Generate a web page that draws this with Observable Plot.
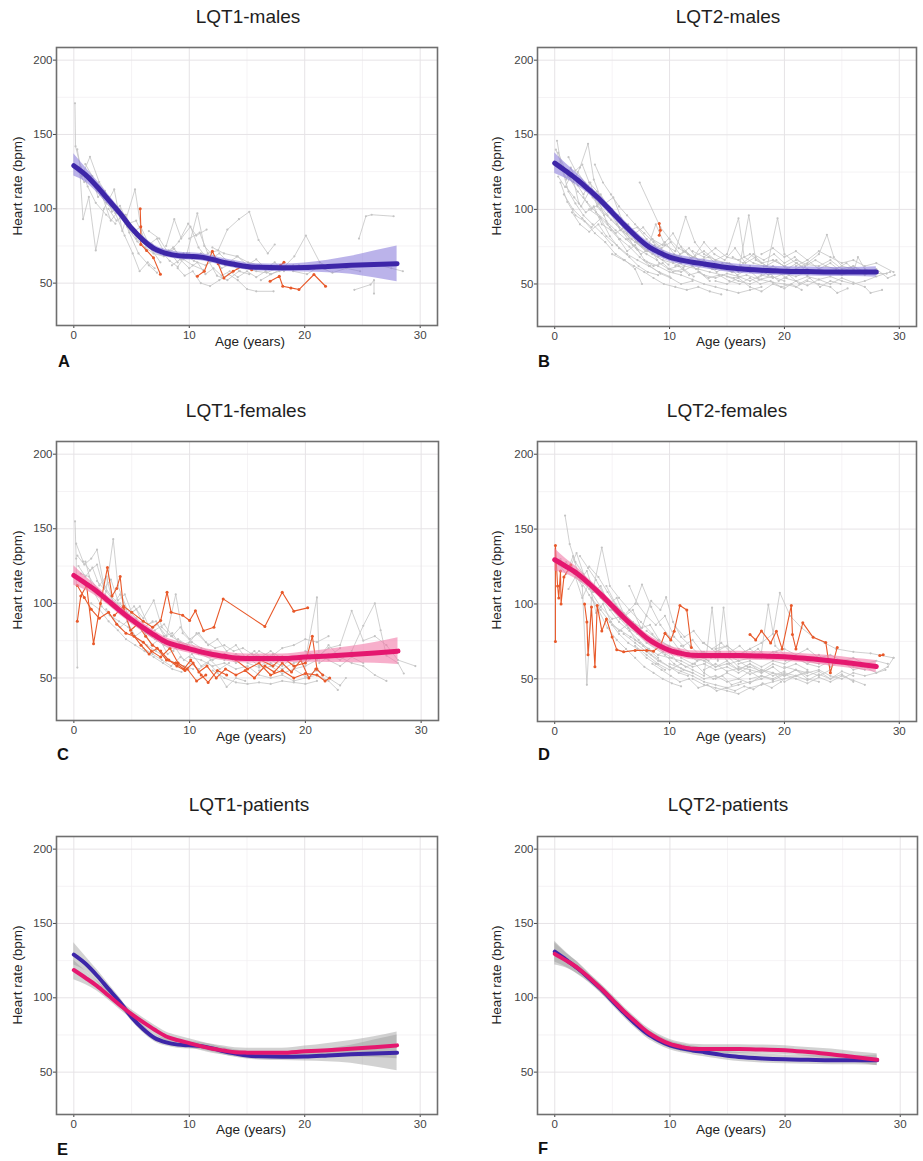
<!DOCTYPE html>
<html>
<head>
<meta charset="utf-8">
<script src="https://cdn.jsdelivr.net/npm/d3@7"></script>
<script src="https://cdn.jsdelivr.net/npm/@observablehq/plot@0.6"></script>
<style>
  body { margin: 0; background: #fff; }
  #root { position: relative; width: 923px; height: 1161px; background: #fff; overflow: hidden;
          font-family: "Liberation Sans", Arial, sans-serif; }
  .panel { position: absolute; }
  .title { position: absolute; transform: translate(-50%, -50%); font-size: 19px; line-height: 1; color: #1e1e1e; white-space: nowrap; }
  .letter { position: absolute; font-size: 16.5px; font-weight: bold; line-height: 1; color: #111; }
  .xlab { position: absolute; transform: translate(-50%, -50%); font-size: 13.5px; line-height: 1; color: #222; white-space: nowrap; }
  .ylab { position: absolute; transform: translate(-50%, -50%) rotate(-90deg); font-size: 13.5px; line-height: 1; color: #222; white-space: nowrap; }
</style>
</head>
<body>
<div id="root"></div>
<script>
// ---------- tick labels / text ----------
const xTicks = [0, 10, 20, 30];
const xMinor = [5, 15, 25];
const yTicks = [50, 100, 150, 200];
const yMinor = [75, 125, 175];
const titles = ["LQT1-males", "LQT2-males", "LQT1-females", "LQT2-females", "LQT1-patients", "LQT2-patients"];
const letters = ["A", "B", "C", "D", "E", "F"];

// ---------- smoothed trends (age, fit, lower, upper) ----------
const trendAges = [0,1,2,3,4,5,6,7,8,9,10,11,12,13,14,15,16,18,20,22,24,26,28];

const fitLQT1M = [129,123,115,106,97,87,79,73,70,68.5,68,67.5,66,64,62.5,61.2,60.6,60.3,60.5,61.2,62,62.6,63];
const loLQT1M  = [122,118,111,102.5,94,84.5,76.5,70.5,67.5,66,65.5,65,63.5,61.5,60,58.8,58.2,57.8,57.5,57,56,53.6,51];
const hiLQT1M  = [137,128,119,109.5,100,89.5,81.5,75.5,72.5,71,70.5,70,68.5,66.5,65,63.6,63,62.8,63.5,65.4,68,71.6,75];

const fitLQT2M = [131,125.5,119.7,113,106,98,90,82.5,76,71.5,68,66,64.6,63.4,62.2,61,60.2,59.2,58.6,58.3,58,58,58];
const loLQT2M  = [124,120.5,115.7,110,103,95,87,79.5,73,68.5,65,63,61.6,60.4,59.2,58,57.2,56.2,55.6,55.3,55,55,54.5];
const hiLQT2M  = [138,130.5,123.7,116,109,101,93,85.5,79,74.5,71,69,67.6,66.4,65.2,64,63.2,62.2,61.6,61.3,61,61,61.5];

const fitLQT1F = [118.7,113.5,108,101.5,95,89,83.6,78.5,74,71.5,69.5,67.5,65.7,64.5,63.4,63.1,63,63,64,64.8,65.7,66.8,68];
const loLQT1F  = [112.2,109,104.5,98.5,92,86,80.6,75.5,71,68.5,66.5,64.5,62.7,61.5,60.4,60.1,60,60,60.5,60.3,60.2,59.8,59];
const hiLQT1F  = [125.2,118,111.5,104.5,98,92,86.6,81.5,77,74.5,72.5,70.5,68.7,67.5,66.4,66.1,66,66,67.5,69.3,71.2,73.8,77];

const fitLQT2F = [129.5,125,120,113.5,106.4,98.8,91,84,77.3,72.5,69,67,65.7,65.5,65.5,65.5,65.5,65.2,64.8,63.5,62,60.2,58.3];
const loLQT2F  = [122,120,116,110.5,103.4,95.8,88,81,74.3,69.5,66,64,62.7,62.5,62.5,62.5,62.5,62.2,61.8,60.5,58.5,56.7,54.3];
const hiLQT2F  = [137,130,124,116.5,109.4,101.8,94,87,80.3,75.5,72,70,68.7,68.5,68.5,68.5,68.5,68.2,67.8,66.5,65.5,63.7,62.3];

// ---------- individual patients: flat [age, hr, age, hr, ...] ----------
const grayLQT1M = [
  [0.1,171, 0.15,142, 0.6,128, 1.2,115, 1.9,104, 2.8,96, 3.6,90],
  [0.3,140, 0.7,122, 1.4,135, 2.2,118, 3,108, 3.8,98, 4.6,88, 5.5,78, 6.2,73],
  [0.5,128, 0.8,93, 1.3,108, 1.9,72, 2.6,100, 3.5,113, 4.2,85, 5.3,113, 6,78, 6.8,72, 7.5,64],
  [1,130, 1.6,122, 2.4,110, 3.2,92, 4,100, 4.8,84, 5.6,70, 6.5,62, 7.2,57],
  [2,112, 2.8,104, 3.6,97, 4.4,82, 5.1,70, 5.7,58, 6.4,64, 7,60],
  [4.5,96, 5,87, 5.4,80, 6.2,74, 6.9,70, 7.8,68, 8.7,73, 9.5,66, 10.3,62, 11.2,59],
  [7.5,72, 8.3,65, 9,61, 9.8,70, 10.7,97, 11.3,75, 12.1,68, 12.8,60, 13.6,63, 14.4,58],
  [8,75, 8.7,93, 9.3,80, 10.1,88, 10.8,74, 11.6,66, 12.4,55, 13.3,52, 14.3,58, 15.2,56],
  [9,60, 9.6,55, 10.3,58, 11,50, 11.8,48, 12.6,52, 13.4,56, 14.2,52, 15,46, 15.8,44.5, 17.3,44.5],
  [10,80, 10.9,84, 11.6,70, 12.5,72, 13.3,86, 14.3,93, 15.2,98, 16,79, 16.8,70, 17.4,76],
  [9.5,70, 10.4,65, 11.4,62, 12.3,66, 13.1,62, 13.9,64, 14.9,60, 15.8,58, 16.7,57, 17.6,60],
  [12,74, 13,70, 14.1,68, 15.1,64, 16.1,62, 17,56, 17.8,58, 18.8,60, 19.5,62],
  [16.2,52, 17.1,56, 18.1,60, 19.1,68, 20.1,82, 21.3,64, 22.2,60],
  [19,58, 20.2,56, 21.2,61, 22.4,57, 23.6,60, 24.8,58],
  [24.7,80, 25.3,95, 25.8,96, 27.7,95],
  [24.3,45.5, 25.7,49, 26,52, 26,43],
  [26.5,62, 27.5,60, 28.5,58],
  [6.5,85, 7.4,80, 8.2,70, 9.1,78, 9.9,90, 10.6,82, 11.5,86],
  [0.4,125, 0.9,118, 1.5,122, 2.1,108, 2.7,112, 3.3,98, 4,102, 4.7,90, 5.4,92, 6.1,80, 6.8,76, 7.5,70, 8.2,72, 9,64],
  [8.5,62, 9.2,66, 10,60, 10.7,64, 11.4,56, 12.1,60, 12.8,55, 13.5,58, 14.2,54, 15,58, 15.8,54, 16.6,58],
  [11,70, 11.8,66, 12.6,70, 13.4,64, 14.2,68, 15,62, 15.8,66, 16.6,60, 17.4,64, 18.2,58, 19,62],
  [3,100, 3.7,92, 4.4,96, 5.1,84, 5.8,88, 6.5,76, 7.2,80, 7.9,70, 8.6,74, 9.3,66, 10,70]
];
const orangeLQT1M = [
  [5.75,100, 5.8,88, 5.8,76, 6.3,72, 6.9,67, 7.5,56],
  [10.7,54.7, 11.3,58, 12,71.5, 12.5,63, 13,53.5, 13.8,58, 14.6,61.4, 15.4,59],
  [17,51.3, 17.8,54.6, 18.1,47.9, 18.8,46.8, 19.5,45.7, 20.8,55.8, 21.8,47.9],
  [17.9,62, 18.2,64]
];

const grayLQT2M = [
  [0.2,146, 0.6,128, 1.2,112, 1.8,104, 2.5,96, 3.3,90, 4.1,84, 5,76],
  [0.3,138, 1,125, 1.6,118, 2.2,128, 2.9,144, 3.4,120, 4,108, 4.8,98, 5.6,88, 6.4,80, 7.2,73],
  [0.5,118, 1.1,105, 1.8,96, 2.6,92, 3.5,84, 4.4,78, 5.3,70, 6.1,66, 7,60, 7.6,50],
  [0.4,130, 1.2,122, 2,112, 2.8,105, 3.6,98, 4.5,92, 5.3,86, 6.2,80, 7.1,74, 8,70, 8.9,66],
  [1,115, 1.7,108, 2.3,102, 3,112, 3.8,104, 4.6,96, 5.4,90, 6.3,84, 7.2,78, 8.1,72, 9,68, 9.9,63],
  [1.5,98, 2.2,90, 3,85, 3.8,90, 4.5,82, 5.4,76, 6.3,70, 7.2,66, 8.2,62, 9.1,58, 10,55],
  [2,125, 2.6,118, 3.3,108, 4,100, 4.9,93, 5.8,86, 6.7,80, 7.6,75, 8.5,70, 9.4,66, 10.3,64, 11.2,61],
  [3,100, 3.9,95, 4.8,88, 5.7,80, 6.5,75, 7.4,68, 8.3,62, 9.2,57, 10.1,54, 11,50, 12,52],
  [4,110, 4.8,100, 5.6,92, 6.5,88, 7.3,80, 8.2,76, 9.1,72, 10,70, 11,68, 11.9,65, 12.8,63, 13.7,60],
  [7.4,118, 9.2,88, 10,80, 10.8,74, 11.6,70, 12.6,66, 13.5,62, 14.5,60, 15.5,58],
  [6,85, 7,78, 8,72, 8.8,90, 9.6,76, 10.5,72, 11.4,95, 12.2,78, 13,70, 14,66, 15,64, 16,61],
  [8,65, 9,62, 10,58, 11,56, 12,53, 13,50, 14,48, 15,46, 16,44, 17,46, 18,48],
  [9,70, 10.2,66, 11.3,62, 12.5,60, 13.5,58, 14.6,56, 15.6,54, 16.7,56, 17.8,53, 18.9,55, 20,52],
  [11,75, 12,68, 13,72, 14,66, 15,70, 16,94, 16.5,68, 17.3,64, 18.2,62, 19.2,60, 20.2,58],
  [13,64, 14,60, 15,62, 16,58, 16.9,96, 17.5,66, 18.5,62, 19.4,94, 20,70, 21,64, 22,60],
  [15,55, 16,52, 17,50, 18,53, 19,51, 20,50, 21,48, 22,52, 23,50, 24,48, 24.6,44, 25.5,47],
  [17,60, 18,58, 19,62, 20,58, 21,60, 22,64, 23,70, 23.7,83, 24.3,68, 25,62, 26,60],
  [19,66, 20,62, 21,58, 22,56, 23,60, 24,58, 25,56, 26,58, 26.4,68, 27,60, 28,57, 28.9,57],
  [20,54, 21,52, 22,55, 23,53, 24,55, 25,52, 26,50, 27,52, 28,55, 29.2,58],
  [10,60, 11,58, 12,62, 13,56, 14,54, 15,57, 16,55, 17,52, 18,56, 19,54, 20,57, 21,55, 22,58],
  [12,72, 13,68, 14,74, 15,68, 16,66, 17,70, 18,64, 19,66, 20,62, 21,66, 22,63, 23,62, 24,66, 25,60, 26,62, 27,58],
  [0.8,110, 1.6,100, 2.4,94, 3.2,88, 4,94, 4.8,82, 5.6,74, 6.5,68, 7.3,62, 8.1,58, 9,56],
  [5,70, 6,66, 6.9,62, 7.8,58, 8.6,54, 9.5,50, 10.5,48, 11.5,46, 12.5,48, 13.5,45, 14.5,43],
  [0.1,140, 0.5,132, 1,120, 1.4,128, 2,116, 2.5,110, 3.1,118, 3.7,102, 4.3,96, 5,100, 5.7,86, 6.4,90, 7.1,78, 7.9,72, 8.7,76, 9.5,68],
  [0.3,122, 0.9,115, 1.5,124, 2.1,104, 2.7,98, 3.4,102, 4.1,90, 4.9,86, 5.6,80, 6.3,72, 7,76, 7.8,66, 8.6,62, 9.4,64, 10.3,58, 11.2,60, 12.1,55],
  [1.2,135, 1.8,126, 2.4,130, 3,118, 3.7,112, 4.4,104, 5.1,108, 5.8,94, 6.5,86, 7.2,88, 8,80, 8.8,74, 9.6,78, 10.4,70, 11.3,66, 12.2,68, 13.1,62],
  [2.5,108, 3.2,100, 3.9,104, 4.6,90, 5.3,84, 6,88, 6.8,76, 7.5,70, 8.3,74, 9.1,64, 9.9,60, 10.8,62, 11.7,56, 12.6,58, 13.5,52],
  [5.5,96, 6.2,90, 7,84, 7.7,88, 8.5,80, 9.3,74, 10.1,78, 10.9,70, 11.7,74, 12.5,66, 13.4,68, 14.3,62, 15.2,64, 16.1,60, 17,62],
  [8.5,80, 9.4,76, 10.3,84, 11.2,72, 12.1,68, 13,78, 13.9,70, 14.8,66, 15.7,74, 16.6,64, 17.5,68, 18.4,62, 19.3,66, 20.2,60, 21.1,64, 22,58],
  [10.5,62, 11.4,66, 12.3,60, 13.2,64, 14.1,58, 15,62, 15.9,56, 16.8,60, 17.7,54, 18.6,58, 19.5,52, 20.4,56, 21.3,50, 22.2,54, 23.1,48, 24,52, 24.9,50],
  [14,52, 15,50, 16,54, 17,48, 18,45, 19,50, 20,47, 21,52, 22,49, 23,53, 24,50, 25,54, 26,51, 27,48, 27.5,44, 28.5,46],
  [18,70, 19,74, 20,68, 21,72, 22,66, 23,72, 24,68, 25,64, 26,66, 27,62, 28,64, 29.5,58],
  [21,62, 22,66, 23,60, 24,64, 25,58, 26,62, 27,56, 28,60, 29,54, 29.6,56],
  [12.5,58, 13.4,54, 14.3,56, 15.2,52, 16.1,50, 17,54, 17.9,50, 18.8,52, 19.7,48, 20.6,50, 21.5,46],
  [15.5,68, 16.4,64, 17.3,70, 18.2,66, 19.1,70, 20,64, 20.9,68, 21.8,62, 22.7,66, 23.6,62, 24.5,60, 25.4,64, 26.3,58],
  [3.5,130, 4.2,118, 4.9,110, 5.6,102, 6.3,96, 7,90, 7.8,84, 8.6,78, 9.4,72, 10.2,68, 11,64],
  [9.8,70, 10.6,68, 11.4,72, 12.2,64, 13,66, 13.8,60, 14.6,64, 15.4,58, 16.2,62, 17,58, 17.8,60, 18.6,56, 19.4,58, 20.2,54]
];
const orangeLQT2M = [
  [9.1,90.5, 9.2,86, 9.1,82.6]
];

const grayLQT1F = [
  [0.1,155, 0.2,130, 0.3,57],
  [0.3,132, 0.9,126, 1.5,130, 2,136, 2.6,112, 3.2,105, 3.8,100, 4.5,94, 5.3,88, 6,84, 6.8,78],
  [0.6,120, 1.3,118, 2,110, 2.7,104, 3.4,143, 3.8,112, 4.6,96, 5.4,90, 6.2,80, 7,76, 7.8,72, 8.6,68],
  [1,128, 1.7,108, 2.4,98, 3.1,92, 3.9,88, 4.7,84, 5.5,76, 6.3,72, 7.1,68, 7.9,64, 8.7,60, 9.5,58, 10.3,56],
  [2,115, 2.8,108, 3.6,100, 4.4,92, 5.2,98, 6,90, 6.9,102, 7.6,84, 8.4,78, 9.2,74, 10,70, 10.8,66],
  [4,100, 4.8,90, 5.6,84, 6.4,80, 7.2,86, 8,78, 8.8,106, 9.4,80, 10.2,74, 11,70, 11.8,68, 12.6,64],
  [6,70, 6.8,66, 7.6,62, 8.4,58, 9.2,64, 10,60, 10.8,56, 11.6,60, 12.4,54, 13.2,44, 14,50, 14.8,48],
  [9,76, 9.8,72, 10.6,80, 11.4,74, 12.2,70, 13,72, 13.8,68, 14.6,70, 15.4,66, 16.2,64, 17,68, 17.8,64],
  [10,64, 11,62, 12,58, 13,60, 14,56, 15,58, 16,52, 17,50, 18,52, 19,48, 20,50, 21,52, 22,48, 22.8,42],
  [13,62, 14,66, 15,62, 16,68, 17,64, 18,70, 19,72, 20,76, 21,74, 22,78],
  [15,60, 16,57, 17,60, 18,56, 19,60, 20,62, 21,104, 21.2,60, 22,64, 23,70],
  [20,68, 21,64, 22,70, 23,72, 24,95, 25,75, 26,78, 27,72, 28,62, 29.5,58],
  [22,66, 23,62, 24,68, 25,85, 26,100, 26.5,82, 27,65, 28,60, 28.5,53],
  [19,56, 20,58, 21,62, 22,72, 23,64, 24,60, 25,58, 26,52, 27,48],
  [12,55, 13,50, 14,47, 15,46, 16,47, 17,46, 18,48, 19,47, 20,46, 21,48],
  [1.5,100, 2.2,96, 3,88, 3.8,82, 4.5,76, 5.3,72, 6.1,68, 6.9,64, 7.7,60, 8.5,56, 9.3,54],
  [0.2,140, 0.8,128, 1.4,122, 2,126, 2.6,110, 3.2,116, 3.8,102, 4.4,106, 5,94, 5.7,98, 6.4,86, 7.1,88, 7.8,78, 8.5,80, 9.2,72, 10,74, 10.8,68],
  [2.8,96, 3.4,90, 4,84, 4.6,88, 5.3,78, 6,82, 6.7,72, 7.4,76, 8.1,66, 8.8,70, 9.5,62, 10.2,66, 11,58, 11.8,62, 12.6,56, 13.4,60],
  [7,82, 7.8,86, 8.5,78, 9.2,84, 10,76, 10.8,80, 11.6,72, 12.4,76, 13.2,68, 14,72, 14.8,64, 15.6,68, 16.4,62, 17.2,66, 18,60],
  [11,66, 12,62, 13,66, 14,60, 15,64, 16,58, 17,62, 18,58, 19,64, 20,60, 21,66, 22,62, 23,58, 24,64, 25,60],
  [16,55, 17,58, 18,53, 19,56, 20,51, 21,55, 22,50, 23,45, 23.5,50],
  [0.4,125, 1,118, 1.6,124, 2.2,112, 2.8,118, 3.4,100, 4,106, 4.7,92, 5.4,96, 6.1,84, 6.8,88]
];
const orangeLQT1F = [
  [3.5,92, 4.3,98, 5,94, 6,88, 6.8,84, 7.5,88.5, 8.05,107.5, 8.4,94, 9.4,92, 10,88.5, 10.5,95, 11.2,81.7, 12.1,84, 12.9,103, 16.5,84.5, 18,107.5, 19,94.8, 20.2,97],
  [0.3,88, 0.6,105, 1.1,112, 1.7,73, 2.3,100, 2.9,124, 3.3,105, 3.7,110, 4,118, 4.3,96, 4.9,82, 5.5,86, 6.2,78, 6.8,72, 7.5,68, 8.2,62, 8.9,58, 9.6,55, 10.3,60, 11,52, 11.6,47, 12.4,55, 13.2,52],
  [5,80, 5.8,72, 6.5,66, 7.2,70, 8,62, 8.8,60, 9.5,56, 10.1,62, 10.8,54, 11.5,58, 12.3,50, 13.1,56, 14,52, 14.8,55, 15.6,50, 16.5,58, 17.3,54, 18,60, 18.8,54, 19.6,62, 20.3,50, 20.9,56],
  [14,62, 15,56, 16,60, 17,52, 18,55, 19,50, 20,53, 21,52, 21.7,48, 22.1,50],
  [0.3,112, 0.9,104, 1.5,96, 2.2,90, 3,94, 3.7,86, 4.5,80, 5.2,78, 6,74, 6.7,68, 7.5,64, 8.3,70, 9,60, 9.8,56, 10.6,48, 11.4,52],
  [15,64, 16.1,62, 17.2,58, 18,64, 19,58, 20,60, 20.6,78, 21,56, 21.5,52]
];

const grayLQT2F = [
  [0.9,159, 1.3,140, 1.8,128, 2.5,120, 3.2,112, 4,104, 4.8,96, 5.6,88, 6.5,82, 7.3,76, 8.1,70, 9,64],
  [0.5,130, 1.2,122, 1.9,134, 2.6,118, 3.3,108, 4.1,137.7, 4.8,112, 5.6,104, 6.5,96, 7.5,88, 8.5,80, 9.5,72, 10.5,68],
  [1,128, 1.7,120, 2.4,112, 2.8,46, 3.2,104, 4,96, 4.8,88, 5.6,80, 6.4,74, 7.2,70, 8,64, 8.8,60, 9.6,56],
  [1.5,125, 2.3,115, 3,106, 3.8,96, 4.6,84, 5.4,76, 6.2,70, 7,64, 7.8,58, 8.6,54, 9.4,50, 10.2,47, 11,45],
  [2,118, 3,110, 4,98, 5,90, 6,92, 7,100, 7.6,113, 8.4,98, 9.2,86, 10,78, 10.8,70, 11.6,66, 12.4,62],
  [4.5,112, 5.3,100, 6,94, 6.8,88, 7.6,84, 8.4,102, 9.2,96, 9.7,104.5, 10.3,88, 11,78, 11.8,72, 12.6,66, 13.4,62],
  [6,80, 7,74, 8,68, 9,62, 10,58, 11,55, 12,52, 13,48, 14,46, 15,44, 16,46, 17,48, 18,50],
  [7,72, 8,66, 9,60, 10,56, 11,60, 12,56, 13,52, 13.7,97.5, 14.2,62, 14.7,97.5, 15.2,64, 16,58, 17,56, 18,54, 19,58],
  [9,66, 10,64, 11,62, 12,58, 13,60, 14,56, 15,58, 16,54, 17,58, 18,55, 19,60, 20,57, 21,60, 22,56],
  [10,60, 11,57, 12,54, 13,50, 14,52, 15,48, 16,50, 17,47, 18,52, 19,50, 20,54, 21,52, 22,55, 23,52, 24,56],
  [11,72, 12,66, 13,68, 14,64, 15,66, 16,62, 17,64, 18,68, 18.6,99.5, 19.2,72, 20,66, 21,64, 22,62, 23,60],
  [12,50, 13,46, 14,44, 15,42, 16,40, 17,44, 18,46, 19,48, 20,50, 21,52, 22,54],
  [14,70, 15,72, 16,66, 17,70, 18,74, 19,80, 19.6,107.5, 20.5,92, 21.5,84, 22.5,78, 23.5,74, 24.5,70, 26,68, 27.5,67, 29.5,64],
  [16,60, 17,62, 18,58, 19,62, 20,60, 21,64, 22,60, 23,58, 24,62, 25,60, 26,58, 27,56],
  [20,58, 21,56, 22,54, 23,56, 24,52, 25,50, 26,54, 27,52, 28,54, 29,58, 29.5,64],
  [13,56, 14,60, 15,55, 16,57, 17,53, 18,56, 19,54, 20,52, 21,56, 22,50, 23,48],
  [3,125, 3.8,118, 4.6,108, 5.4,98, 6.2,92, 7,86, 7.8,80, 8.6,74, 9.4,68, 10.2,64],
  [8,82, 9,76, 10,72, 11,68, 12,64, 13,62, 14,58, 15,60, 16,56, 17,60, 18,56, 19,52, 20,55],
  [0.4,126, 1,120, 1.6,132, 2.2,116, 2.8,122, 3.4,108, 4,112, 4.7,100, 5.4,104, 6.1,92, 6.8,96, 7.5,84, 8.3,86, 9.1,76, 9.9,72, 10.7,66],
  [1.2,110, 1.8,118, 2.4,104, 3,114, 3.6,94, 4.2,100, 4.9,88, 5.6,82, 6.3,86, 7,76, 7.7,72, 8.4,66, 9.2,62, 10,58, 10.8,54, 11.6,52],
  [5,86, 5.8,82, 6.6,78, 7.4,74, 8.2,70, 9,66, 9.8,70, 10.6,62, 11.4,58, 12.2,60, 13,54, 13.8,50, 14.6,52, 15.4,46, 16.2,48],
  [6.5,112, 7.2,100, 8,92, 8.8,86, 9.6,92, 10.4,78, 11.2,72, 12,76, 12.8,68, 13.6,64, 14.4,68, 15.2,60, 16,62, 16.8,58],
  [8.5,60, 9.3,56, 10.1,52, 10.9,48, 11.7,50, 12.5,44, 13.3,46, 14.1,42, 14.9,44, 15.7,42, 16.5,45, 17.3,43, 18.1,47, 18.9,44, 19.7,48],
  [11,64, 12,60, 13,64, 14,58, 15,62, 16,56, 17,60, 18,54, 19,58, 20,52, 21,56, 22,52, 23,55, 24,50, 25,53, 26,48],
  [13,74, 14,68, 15,72, 16,66, 17,70, 18,64, 19,68, 20,70, 21,66, 22,70, 23,64, 24,66, 25,62, 26,64, 27,60, 28,62, 29,60],
  [17,50, 18,52, 19,49, 20,53, 21,50, 22,47, 23,51, 24,48, 25,52, 26,49, 27,46],
  [21,64, 22,60, 23,66, 24,58, 25,62, 26,56, 27,58, 28,54, 28.8,56],
  [10.5,85, 11.3,78, 12.1,82, 12.9,74, 13.7,70, 14.5,74, 15.3,68, 16.1,72, 16.9,66, 17.7,70, 18.5,64, 19.3,68, 20.1,62],
  [2.2,132, 2.9,124, 3.6,116, 4.3,106, 5,96, 5.7,90, 6.4,84, 7.2,80, 8,74, 8.8,70, 9.6,66, 10.4,60, 11.2,56, 12,54],
  [14,50, 15,54, 16,50, 17,55, 18,50, 19,54, 20,48, 21,52, 22,49, 23,53, 24,50, 25,55, 26,52]
];
const orangeLQT2F = [
  [0.06,75, 0.06,139, 0.25,112, 0.35,104, 0.5,122, 0.55,100, 0.8,118, 1.4,126],
  [2.6,100, 2.8,88, 2.9,66, 3.2,98, 3.5,58, 3.7,99, 4.1,82, 4.5,90, 5,78, 5.4,69.5, 6,68, 7,69, 8,69, 8.6,68.5, 9.2,72, 9.6,80.5, 10.1,76, 10.4,81.7, 10.9,99, 11.5,96, 11.9,71],
  [17,79.6, 17.5,76, 18,82, 18.8,74, 19.3,81.7, 19.8,70, 20.6,99, 20.7,79.6, 21,70, 21.6,87.4, 22.5,77.7, 23.6,74.3, 24,54, 24.6,71],
  [28.3,65.5, 28.6,66]
];

// ---------- colours ----------
const BLUE = "#3d26a8", BLUE_BAND = "#8474d9";
const PINK = "#e5176f", PINK_BAND = "#f27aa8";
const GRAY_BAND = "#9c9c9c";
const SPAG = "#c4c4c4", ORANGE = "#e8592a";

// ---------- helpers ----------
function toRows(series) {
  const out = [];
  series.forEach((s, i) => { for (let k = 0; k < s.length; k += 2) out.push({id: i, age: s[k], hr: s[k + 1]}); });
  return out;
}
function trendRows(fit, lo, hi) {
  return trendAges.map((a, i) => ({age: a, fit: fit[i], lo: lo[i], hi: hi[i]}));
}

const T1M = trendRows(fitLQT1M, loLQT1M, hiLQT1M);
const T2M = trendRows(fitLQT2M, loLQT2M, hiLQT2M);
const T1F = trendRows(fitLQT1F, loLQT1F, hiLQT1F);
const T2F = trendRows(fitLQT2F, loLQT2F, hiLQT2F);

const panels = [
  {left: 0,   top: 0,   w: 460, h: 380, ml: 56, mr: 23, mt: 47, mb: 55, gray: grayLQT1M, orange: orangeLQT1M,
   trends: [{d: T1M, c: BLUE, b: BLUE_BAND, bo: 0.55, sw: 5}], title: [248, 16], letter: [58, 353], xl: [250, 342], yl: [18, 186]},
  {left: 460, top: 0,   w: 463, h: 380, ml: 77, mr: 7,  mt: 47, mb: 54, gray: grayLQT2M, orange: orangeLQT2M,
   trends: [{d: T2M, c: BLUE, b: BLUE_BAND, bo: 0.55, sw: 5}], title: [728, 16], letter: [538, 353], xl: [731, 342], yl: [497, 186]},
  {left: 0,   top: 380, w: 460, h: 390, ml: 56, mr: 22, mt: 61, mb: 50, gray: grayLQT1F, orange: orangeLQT1F,
   trends: [{d: T1F, c: PINK, b: PINK_BAND, bo: 0.6, sw: 5}], title: [246, 410], letter: [57, 746], xl: [251, 737], yl: [18, 580]},
  {left: 460, top: 380, w: 463, h: 390, ml: 77, mr: 7,  mt: 61, mb: 49, gray: grayLQT2F, orange: orangeLQT2F,
   trends: [{d: T2F, c: PINK, b: PINK_BAND, bo: 0.6, sw: 5}], title: [727, 410], letter: [538, 746], xl: [731, 737], yl: [497, 580]},
  {left: 0,   top: 770, w: 460, h: 391, ml: 56, mr: 23, mt: 66, mb: 47, gray: [], orange: [],
   trends: [{d: T1M, c: BLUE, b: GRAY_BAND, bo: 0.45, sw: 4}, {d: T1F, c: PINK, b: GRAY_BAND, bo: 0.45, sw: 4}],
   title: [249, 804], letter: [57, 1141], xl: [251, 1130], yl: [18, 975]},
  {left: 460, top: 770, w: 463, h: 391, ml: 77, mr: 6,  mt: 66, mb: 47, gray: [], orange: [],
   trends: [{d: T2M, c: BLUE, b: GRAY_BAND, bo: 0.45, sw: 4}, {d: T2F, c: PINK, b: GRAY_BAND, bo: 0.45, sw: 4}],
   title: [728, 804], letter: [538, 1140], xl: [731, 1130], yl: [497, 975]}
];

const root = document.getElementById("root");

panels.forEach((p, i) => {
  const gRows = toRows(p.gray);
  const oRows = toRows(p.orange);
  const marks = [
    Plot.ruleX(xMinor, {stroke: "#f0eef0", strokeWidth: 0.7}),
    Plot.ruleY(yMinor, {stroke: "#f0eef0", strokeWidth: 0.7}),
    Plot.ruleX(xTicks, {stroke: "#e6e3e6", strokeWidth: 1}),
    Plot.ruleY(yTicks, {stroke: "#e6e3e6", strokeWidth: 1}),
    Plot.axisX({ticks: xTicks, tickSize: 3, tickPadding: 2, label: null, fontSize: 11.5}),
    Plot.axisY({ticks: yTicks, tickSize: 3, tickPadding: 1, label: null, fontSize: 11.5}),
    Plot.line(gRows, {x: "age", y: "hr", z: "id", stroke: SPAG, strokeWidth: 0.8}),
    Plot.dot(gRows, {x: "age", y: "hr", r: 1.1, fill: SPAG, stroke: null}),
    Plot.line(oRows, {x: "age", y: "hr", z: "id", stroke: ORANGE, strokeWidth: 1.1}),
    Plot.dot(oRows, {x: "age", y: "hr", r: 1.5, fill: ORANGE, stroke: null})
  ];
  p.trends.forEach(t => {
    marks.push(Plot.areaY(t.d, {x: "age", y1: "lo", y2: "hi", fill: t.b, fillOpacity: t.bo, curve: "monotone-x"}));
  });
  p.trends.forEach(t => {
    marks.push(Plot.line(t.d, {x: "age", y: "fit", stroke: t.c, strokeWidth: t.sw, curve: "monotone-x"}));
  });
  marks.push(Plot.frame({stroke: "#6f6f6f", strokeWidth: 1.6}));

  const svg = Plot.plot({
    width: p.w, height: p.h,
    marginLeft: p.ml, marginRight: p.mr, marginTop: p.mt, marginBottom: p.mb,
    x: {domain: [-1.5, 31.5]},
    y: {domain: [21.5, 208.5]},
    style: {fontFamily: "'Liberation Sans', Arial, sans-serif", fontSize: "11.5px", color: "#444", background: "transparent"},
    marks
  });
  const holder = document.createElement("div");
  holder.className = "panel";
  holder.style.left = p.left + "px";
  holder.style.top = p.top + "px";
  holder.appendChild(svg);
  root.appendChild(holder);

  const t = document.createElement("div");
  t.className = "title"; t.textContent = titles[i];
  t.style.left = p.title[0] + "px"; t.style.top = p.title[1] + "px";
  root.appendChild(t);

  const l = document.createElement("div");
  l.className = "letter"; l.textContent = letters[i];
  l.style.left = p.letter[0] + "px"; l.style.top = p.letter[1] + "px";
  root.appendChild(l);

  const xl = document.createElement("div");
  xl.className = "xlab"; xl.textContent = "Age (years)";
  xl.style.left = p.xl[0] + "px"; xl.style.top = p.xl[1] + "px";
  root.appendChild(xl);

  const yl = document.createElement("div");
  yl.className = "ylab"; yl.textContent = "Heart rate (bpm)";
  yl.style.left = p.yl[0] + "px"; yl.style.top = p.yl[1] + "px";
  root.appendChild(yl);
});
</script>
</body>
</html>
